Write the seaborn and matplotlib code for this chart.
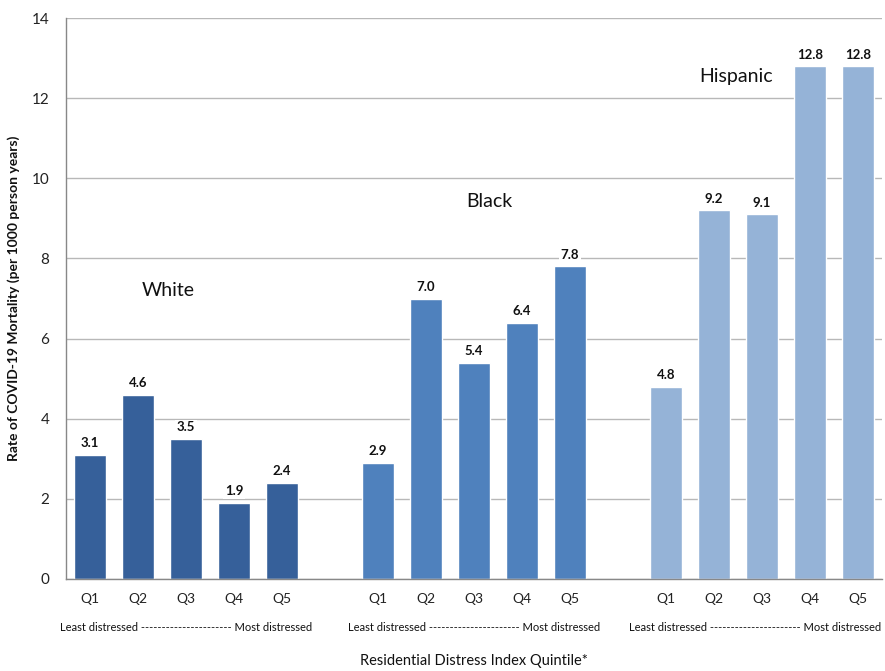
import matplotlib
matplotlib.use("Agg")
import matplotlib.pyplot as plt
import seaborn as sns
import pandas as pd
from matplotlib.ticker import FixedLocator

# Mortality rates per 1000 person-years by residential distress quintile
quintiles = ["Q1", "Q2", "Q3", "Q4", "Q5"]
groups = ["White", "Black", "Hispanic"]
white_rates = [3.1, 4.6, 3.5, 1.9, 2.4]
black_rates = [2.9, 7.0, 5.4, 6.4, 7.8]
hispanic_rates = [4.8, 9.2, 9.1, 12.8, 12.8]
group_colors = {"White": "#36609A", "Black": "#4F81BD", "Hispanic": "#95B3D7"}

rates = {"White": white_rates, "Black": black_rates, "Hispanic": hispanic_rates}
rows = []
for g in groups:
    for q, v in zip(quintiles, rates[g]):
        rows.append({"slot": f"{g} {q}", "group": g, "quintile": q, "rate": v})
df = pd.DataFrame(rows)

# Category order with an empty slot between race groups
order = []
tick_text = []
for i, g in enumerate(groups):
    for q in quintiles:
        order.append(f"{g} {q}")
        tick_text.append(q)
    if i < len(groups) - 1:
        order.append(f"gap {i}")
        tick_text.append("")

sns.set_theme(style="white")
plt.rcParams["font.family"] = ["Lato", "DejaVu Sans"]

fig = plt.figure(figsize=(8.85, 6.71), dpi=100)
ax = fig.add_axes([66 / 885, 92 / 671, 816 / 885, 561 / 671])

sns.barplot(data=df, x="slot", y="rate", hue="group", order=order,
            palette=group_colors, dodge=False, width=0.65, saturation=1,
            legend=False, ax=ax)

for cont in ax.containers:
    ax.bar_label(cont, fmt="%.1f", padding=4, fontsize=9.5, fontweight="bold",
                 color="#111111",
                 bbox=dict(facecolor="white", edgecolor="none", pad=1.0))

ax.set_xlim(-0.5, len(order) - 0.5)
ax.set_ylim(0, 14)
ax.set_yticks(range(0, 15, 2))
ax.set_yticklabels([str(v) for v in range(0, 15, 2)], fontsize=11, color="#222222")

ax.set_xticks(range(len(order)))
ax.set_xticklabels(tick_text, fontsize=10, color="#222222")
ax.xaxis.set_minor_locator(FixedLocator([i - 0.5 for i in range(len(order) + 1)]))
ax.tick_params(axis="x", which="major", length=0, pad=10)
ax.tick_params(axis="x", which="minor", length=5, color="#888888", direction="out")
ax.tick_params(axis="y", which="major", length=6, color="#888888", direction="out", pad=6)

ax.yaxis.grid(True, color="#B8B8B8", linewidth=1)
ax.set_axisbelow(True)
for side in ["top", "right"]:
    ax.spines[side].set_visible(False)
for side in ["left", "bottom"]:
    ax.spines[side].set_color("#888888")
    ax.spines[side].set_linewidth(1)

# Group names
ax.text(1.625, 7.2, "White", fontsize=14, ha="center", va="center", color="#111111")
ax.text(8.33, 9.43, "Black", fontsize=14, ha="center", va="center", color="#111111")
ax.text(13.46, 12.53, "Hispanic", fontsize=14, ha="center", va="center", color="#111111")

# Distress direction under each group
span_text = "Least distressed " + "-" * 22 + " Most distressed"
centers = [2.0, 8.0, 13.85]
for c in centers:
    ax.text(c, -1.22, span_text, fontsize=8, ha="center", va="center",
            color="#111111", clip_on=False)

ax.set_xlabel("Residential Distress Index Quintile*", fontsize=10.5,
              color="#111111", labelpad=35)
ax.set_ylabel("Rate of COVID-19 Mortality (per 1000 person years)", fontsize=10,
              fontweight="bold", color="#111111", labelpad=8)

fig.savefig("out.png", dpi=100)
